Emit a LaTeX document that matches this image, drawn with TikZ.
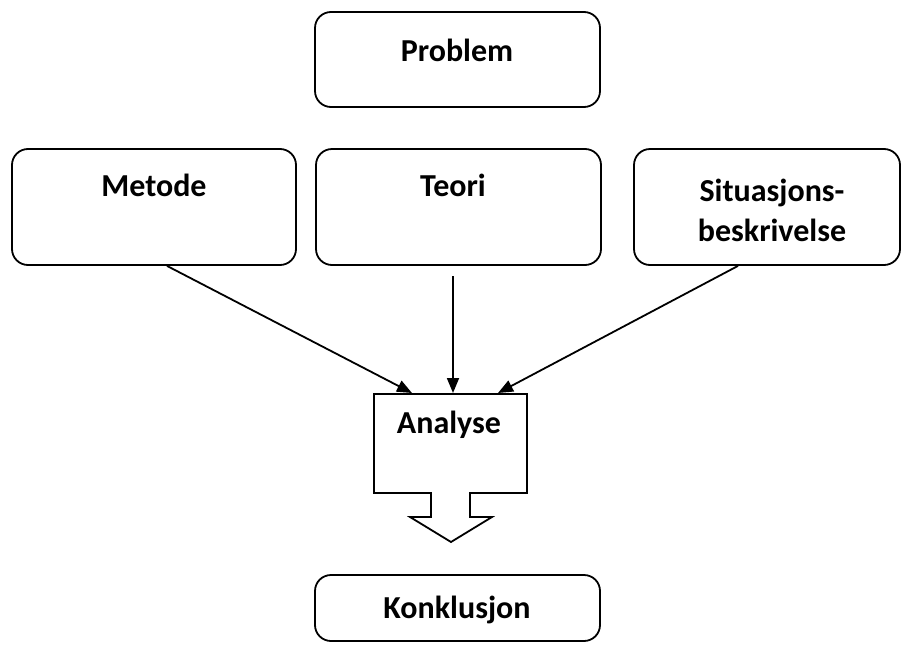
\documentclass[tikz,border=0pt]{standalone}
\usepackage{fontspec}
\setmainfont{Carlito}
\usetikzlibrary{arrows.meta}
\begin{document}
\begin{tikzpicture}[x=1pt,y=-1pt,
  box/.style={draw,line width=1.8pt,rounded corners=16pt,inner sep=0pt},
  lbl/.style={font=\fontsize{32}{40}\selectfont\bfseries, align=center, inner sep=0pt},
  conn/.style={line width=1.8pt,-{Triangle[length=15pt,width=12pt]}}]
\useasboundingbox (0,0) rectangle (910,648);
% boxes
\node[box, minimum width=285pt, minimum height=95pt] (problem) at (457.5,59.5) {};
\node[box, minimum width=284pt, minimum height=116pt] (metode) at (154,207) {};
\node[box, minimum width=285pt, minimum height=116pt] (teori) at (458.5,207) {};
\node[box, minimum width=266pt, minimum height=116pt] (situ) at (767,207) {};
\node[box, minimum width=285pt, minimum height=66pt] (konk) at (457.5,608) {};
% labels
\node[lbl] (problemt) at (457,50) {Problem};
\node[lbl] (metodet) at (154,185) {Metode};
\node[lbl] (teorit) at (453,185) {Teori};
\node[lbl] (situt) at (772,210) {Situasjons-\\beskrivelse};
\node[lbl] (konkt) at (457,610) {Konklusjon};
% analyse block arrow
\draw[line width=1.8pt, line join=miter] (374,394) -- (527,394) -- (527,493) -- (470,493) -- (470,517)
  -- (492,517) -- (451,542) -- (410,517) -- (431,517) -- (431,493) -- (374,493) -- cycle;
\node[lbl] (analyse) at (449,425) {Analyse};
% connectors
\coordinate (e1) at (412,393);
\coordinate (e2) at (453,393);
\coordinate (e3) at (498,393);
\coordinate (s2) at (453,276);
\draw[conn] ([xshift=13pt]metode.south) -- (e1);
\draw[conn] (s2) -- (e2);
\draw[conn] ([xshift=-29pt]situ.south) -- (e3);
\end{tikzpicture}
\end{document}
